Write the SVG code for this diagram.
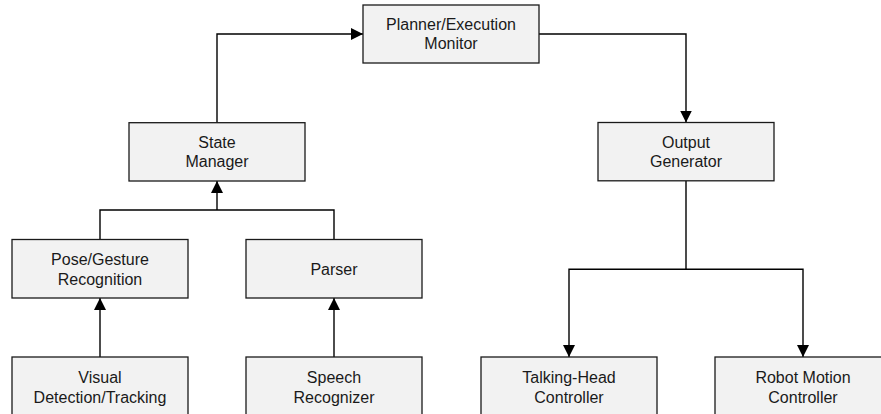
<svg xmlns="http://www.w3.org/2000/svg" width="881" height="414" viewBox="0 0 881 414">
<style>
.box{fill:#f2f2f2;stroke:#1a1a1a;stroke-width:1.3}
.lbl{font-family:"Liberation Sans",Arial,sans-serif;font-size:16px;fill:#1a1a1a;text-anchor:middle}
.con{fill:none;stroke:#000;stroke-width:1.4}
</style>
<defs>
<marker id="ah" viewBox="0 0 12 12" refX="12" refY="6" markerWidth="12" markerHeight="12" markerUnits="userSpaceOnUse" orient="auto">
<path d="M0,0 L12,6 L0,12 Z" fill="#000"/>
</marker>
</defs>
<rect width="881" height="414" fill="#fff"/>
<g id="connectors">
<path class="con" d="M217,122.7 V34 H363" marker-end="url(#ah)"/>
<path class="con" d="M539,34 H686 V122.5" marker-end="url(#ah)"/>
<path class="con" d="M100,239.5 V210 H334 V239.5"/>
<path class="con" d="M217,210 V181" marker-end="url(#ah)"/>
<path class="con" d="M100,357 V298" marker-end="url(#ah)"/>
<path class="con" d="M334,357 V298" marker-end="url(#ah)"/>
<path class="con" d="M686,181 V269.3 H569 V357" marker-end="url(#ah)"/>
<path class="con" d="M686,269.3 H803 V357" marker-end="url(#ah)"/>
</g>
<g id="planner">
<rect class="box" x="363" y="5" width="176" height="58"/>
<text class="lbl" x="451" y="30">Planner/Execution</text>
<text class="lbl" x="451" y="49">Monitor</text>
</g>
<g id="state-manager">
<rect class="box" x="129" y="122.7" width="176" height="58.3"/>
<text class="lbl" x="217" y="148">State</text>
<text class="lbl" x="217" y="167">Manager</text>
</g>
<g id="output-generator">
<rect class="box" x="598" y="122.5" width="176" height="58.3"/>
<text class="lbl" x="686" y="148">Output</text>
<text class="lbl" x="686" y="167">Generator</text>
</g>
<g id="pose-gesture">
<rect class="box" x="12" y="239.5" width="176" height="58.5"/>
<text class="lbl" x="100" y="265">Pose/Gesture</text>
<text class="lbl" x="100" y="284.5">Recognition</text>
</g>
<g id="parser">
<rect class="box" x="246" y="239.5" width="176" height="58.5"/>
<text class="lbl" x="334" y="274.5">Parser</text>
</g>
<g id="visual">
<rect class="box" x="12" y="357" width="176" height="60"/>
<text class="lbl" x="100" y="383">Visual</text>
<text class="lbl" x="100" y="403">Detection/Tracking</text>
</g>
<g id="speech">
<rect class="box" x="246" y="357" width="176" height="60"/>
<text class="lbl" x="334" y="383">Speech</text>
<text class="lbl" x="334" y="403">Recognizer</text>
</g>
<g id="talking-head">
<rect class="box" x="481" y="357" width="176" height="60"/>
<text class="lbl" x="569" y="383">Talking-Head</text>
<text class="lbl" x="569" y="403">Controller</text>
</g>
<g id="robot-motion">
<rect class="box" x="715" y="357" width="176" height="60"/>
<text class="lbl" x="803" y="383">Robot Motion</text>
<text class="lbl" x="803" y="403">Controller</text>
</g>
</svg>
